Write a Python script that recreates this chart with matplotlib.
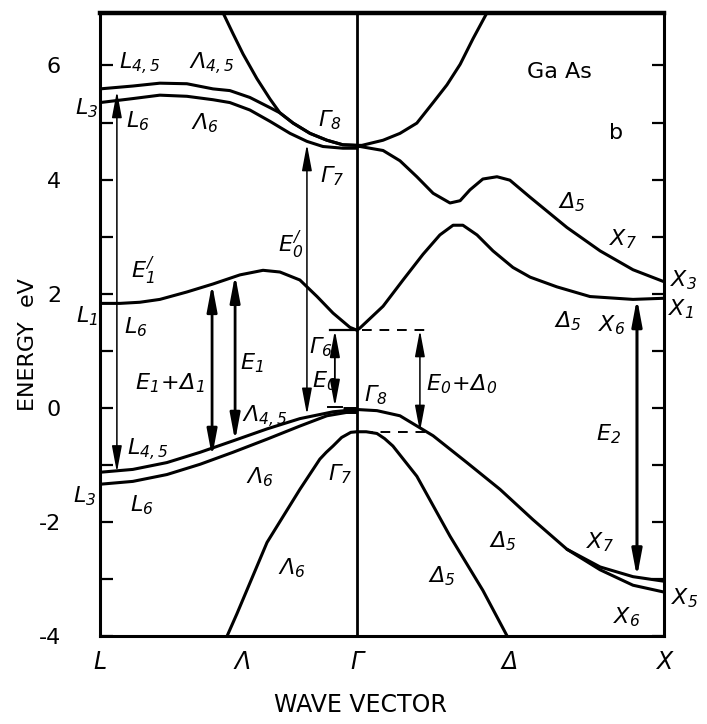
import matplotlib.pyplot as plt

plt.rcParams['font.family'] = 'DejaVu Sans'
plt.rcParams['mathtext.fontset'] = 'custom'
plt.rcParams['mathtext.rm'] = 'DejaVu Sans:italic'
plt.rcParams['mathtext.it'] = 'DejaVu Sans:italic'
plt.rcParams['mathtext.bf'] = 'DejaVu Sans:bold:italic'

# wave vector axis: Gamma = 0, X = 1, L on the negative side
K_L, K_G, K_X = -0.837, 0.0, 1.0
kpoints = [K_L, -0.372, K_G, 0.498, K_X]
kpoint_labels = ['L', 'Λ', 'Γ', 'Δ', 'X']

E_MIN, E_MAX = -4.0, 6.92
E_G6, E_G8, E_G7 = 1.36, -0.03, -0.42

# conduction bands, L side
k_c3_left = [-0.436, -0.404, -0.371, -0.326, -0.283, -0.251, -0.208, -0.153, -0.098, -0.046, 0.0]
e_c3_left = [6.92, 6.56, 6.20, 5.77, 5.41, 5.17, 4.99, 4.81, 4.69, 4.61, 4.60]
k_c45_left = [-0.837, -0.730, -0.642, -0.554, -0.469, -0.414, -0.349, -0.283, -0.251, -0.208,
              -0.153, -0.098, -0.046, 0.0]
e_c45_left = [5.59, 5.64, 5.69, 5.68, 5.59, 5.56, 5.44, 5.26, 5.17, 4.99, 4.81, 4.69, 4.61, 4.60]
k_c6_left = [-0.837, -0.730, -0.642, -0.554, -0.469, -0.414, -0.349, -0.283, -0.218, -0.163,
             -0.111, -0.046, 0.0]
e_c6_left = [5.35, 5.42, 5.48, 5.46, 5.40, 5.35, 5.22, 5.02, 4.81, 4.67, 4.58, 4.55, 4.55]
k_c1_left = [-0.837, -0.772, -0.707, -0.642, -0.554, -0.469, -0.381, -0.306, -0.251, -0.186,
             -0.130, -0.078, -0.023, 0.0]
e_c1_left = [1.83, 1.83, 1.85, 1.90, 2.03, 2.17, 2.33, 2.41, 2.38, 2.24, 1.95, 1.66, 1.41, 1.36]

# conduction bands, X side
k_c3_right = [0.0, 0.016, 0.085, 0.140, 0.195, 0.248, 0.293, 0.336, 0.378, 0.423]
e_c3_right = [4.60, 4.60, 4.69, 4.81, 4.99, 5.35, 5.66, 6.02, 6.47, 6.92]
k_c5_right = [0.0, 0.010, 0.085, 0.140, 0.195, 0.248, 0.303, 0.336, 0.368, 0.410, 0.456, 0.498,
              0.564, 0.684, 0.792, 0.899, 1.0]
e_c5_right = [4.58, 4.58, 4.51, 4.33, 4.05, 3.76, 3.59, 3.63, 3.82, 4.01, 4.05, 3.99, 3.69, 3.16,
              2.75, 2.42, 2.21]
k_c1_right = [0.0, 0.010, 0.085, 0.150, 0.215, 0.270, 0.313, 0.345, 0.391, 0.443, 0.508, 0.564,
              0.651, 0.759, 0.899, 1.0]
e_c1_right = [1.36, 1.40, 1.78, 2.24, 2.69, 3.03, 3.20, 3.20, 3.03, 2.75, 2.46, 2.29, 2.12, 1.95,
              1.90, 1.92]

# valence bands, L side
k_v45_left = [-0.837, -0.730, -0.619, -0.511, -0.404, -0.293, -0.186, -0.078, 0.0]
e_v45_left = [-1.13, -1.08, -0.96, -0.78, -0.58, -0.37, -0.19, -0.07, -0.03]
k_v6_left = [-0.837, -0.730, -0.619, -0.511, -0.404, -0.293, -0.186, -0.098, 0.0]
e_v6_left = [-1.34, -1.29, -1.17, -0.99, -0.78, -0.55, -0.32, -0.14, -0.05]
k_so_left = [0.0, -0.020, -0.050, -0.078, -0.100, -0.121, -0.186, -0.293, -0.391, -0.423]
e_so_left = [-0.42, -0.43, -0.52, -0.67, -0.78, -0.90, -1.43, -2.36, -3.61, -4.0]

# valence bands, X side
k_v5_right = [0.0, 0.065, 0.140, 0.248, 0.358, 0.466, 0.573, 0.684, 0.792, 0.899, 1.0]
e_v5_right = [-0.03, -0.05, -0.14, -0.49, -0.96, -1.43, -1.96, -2.48, -2.79, -2.96, -3.04]
k_x6_right = [0.684, 0.792, 0.899, 1.0]
e_x6_right = [-2.48, -2.84, -3.11, -3.23]
k_so_right = [0.0, 0.030, 0.065, 0.090, 0.117, 0.195, 0.303, 0.410, 0.489]
e_so_right = [-0.42, -0.42, -0.45, -0.54, -0.67, -1.20, -2.25, -3.20, -4.0]

bands = [
    (k_c3_left, e_c3_left), (k_c45_left, e_c45_left), (k_c6_left, e_c6_left),
    (k_c1_left, e_c1_left), (k_c3_right, e_c3_right), (k_c5_right, e_c5_right),
    (k_c1_right, e_c1_right), (k_v45_left, e_v45_left), (k_v6_left, e_v6_left),
    (k_so_left, e_so_left), (k_v5_right, e_v5_right), (k_x6_right, e_x6_right),
    (k_so_right, e_so_right),
]

# optical transitions: (k, lower energy, upper energy, line width)
transitions = [
    (-0.782, -1.13, 5.55, 1.1),   # E1'
    (-0.472, -0.86, 2.17, 2.0),   # E1 + Delta1
    (-0.397, -0.58, 2.33, 2.0),   # E1
    (-0.163, -0.12, 4.62, 1.1),   # E0'
    (-0.072, 0.02, 1.36, 1.3),    # E0
    (0.205, E_G7, E_G6, 1.1),     # E0 + Delta0
    (0.912, -2.97, 1.92, 2.2),    # E2
]

labels = [
    (r'$L_{4,5}$', -0.707, 6.03), (r'$\Lambda_{4,5}$', -0.472, 6.03),
    (r'$L_3$', -0.879, 5.26), (r'$L_6$', -0.713, 5.02), (r'$\Lambda_6$', -0.495, 4.98),
    (r'$\Gamma_8$', -0.088, 5.04), (r'$\Gamma_7$', -0.081, 4.06),
    (r'$E^{/}_1$', -0.697, 2.40), (r'$E^{/}_0$', -0.215, 2.86),
    (r'$L_1$', -0.879, 1.61), (r'$L_6$', -0.720, 1.41),
    (r'$\Gamma_6$', -0.117, 1.07), (r'$E_0$', -0.104, 0.46), (r'$\Gamma_8$', 0.062, 0.22),
    (r'$E_0\!+\!\Delta_0$', 0.342, 0.42), (r'$E_1$', -0.342, 0.78),
    (r'$E_1\!+\!\Delta_1$', -0.609, 0.43), (r'$\Lambda_{4,5}$', -0.300, -0.16),
    (r'$L_{4,5}$', -0.681, -0.73), (r'$\Lambda_6$', -0.316, -1.22),
    (r'$L_3$', -0.886, -1.55), (r'$L_6$', -0.700, -1.71), (r'$\Gamma_7$', -0.055, -1.17),
    (r'$\Lambda_6$', -0.212, -2.82), (r'$\Delta_5$', 0.476, -2.33), (r'$\Delta_5$', 0.277, -2.96),
    (r'$X_7$', 0.792, -2.35), (r'$X_5$', 1.068, -3.33), (r'$X_6$', 0.879, -3.67),
    (r'$E_2$', 0.818, -0.46), (r'$\Delta_5$', 0.700, 3.61), (r'$X_7$', 0.866, 2.96),
    (r'$X_3$', 1.062, 2.24), (r'$X_1$', 1.055, 1.72), (r'$\Delta_5$', 0.687, 1.52),
    (r'$X_6$', 0.831, 1.45),
]

fig = plt.figure(figsize=(7.07, 7.24), dpi=100)
ax = fig.add_axes([100 / 707, 88 / 724, 564 / 707, 623 / 724])
ax.set_xlim(K_L, K_X)
ax.set_ylim(E_MIN, E_MAX)

for k, e in bands:
    ax.plot(k, e, color='k', lw=2.2, solid_capstyle='round', solid_joinstyle='round')

# Gamma line
ax.axvline(K_G, color='k', lw=2.0)

# Gamma6 and Gamma7 reference levels
ax.plot([-0.088, 0.0], [E_G6, E_G6], color='k', lw=1.6)
ax.plot([0.016, 0.228], [E_G6, E_G6], color='k', lw=1.4, ls=(0, (5, 4)))
ax.plot([0.02, 0.228], [E_G7, E_G7], color='k', lw=1.4, ls=(0, (5, 4)))
ax.plot([-0.095, -0.05], [0.02, 0.02], color='k', lw=1.4)
ax.plot([-0.045, 0.0], [E_G8, E_G8], color='k', lw=5, solid_capstyle='butt')

for k, lo, hi, lw in transitions:
    ax.annotate('', xy=(k, hi), xytext=(k, lo),
                arrowprops=dict(arrowstyle='<|-|>,head_length=1.6,head_width=0.3',
                                lw=lw, color='k', shrinkA=0, shrinkB=0))

for txt, k, e in labels:
    ax.text(k, e, txt, fontsize=16, ha='center', va='center', clip_on=False)

ax.text(0.661, 5.89, 'Ga As', fontsize=16, ha='center', va='center')
ax.text(0.844, 4.81, 'b', fontsize=16, ha='center', va='center')

ax.set_yticks(range(-4, 7))
ax.set_yticklabels(['-4', '', '-2', '', '0', '', '2', '', '4', '', '6'])
ax.tick_params(axis='y', direction='in', length=9, width=1.6, left=True, right=True,
               labelsize=16, pad=28)
ax.set_xticks(kpoints)
ax.set_xticklabels(kpoint_labels, fontstyle='italic')
ax.tick_params(axis='x', length=0, labelsize=17, pad=10)

for side in ['left', 'right', 'bottom']:
    ax.spines[side].set_linewidth(2.2)
ax.spines['top'].set_linewidth(3.2)

fig.text(360 / 707, 19 / 724, 'WAVE VECTOR', fontsize=17, ha='center', va='center')
fig.text(28 / 707, 1 - 345 / 724, 'ENERGY  eV', fontsize=16, rotation=90,
         ha='center', va='center')

fig.savefig('out.png', dpi=100)
